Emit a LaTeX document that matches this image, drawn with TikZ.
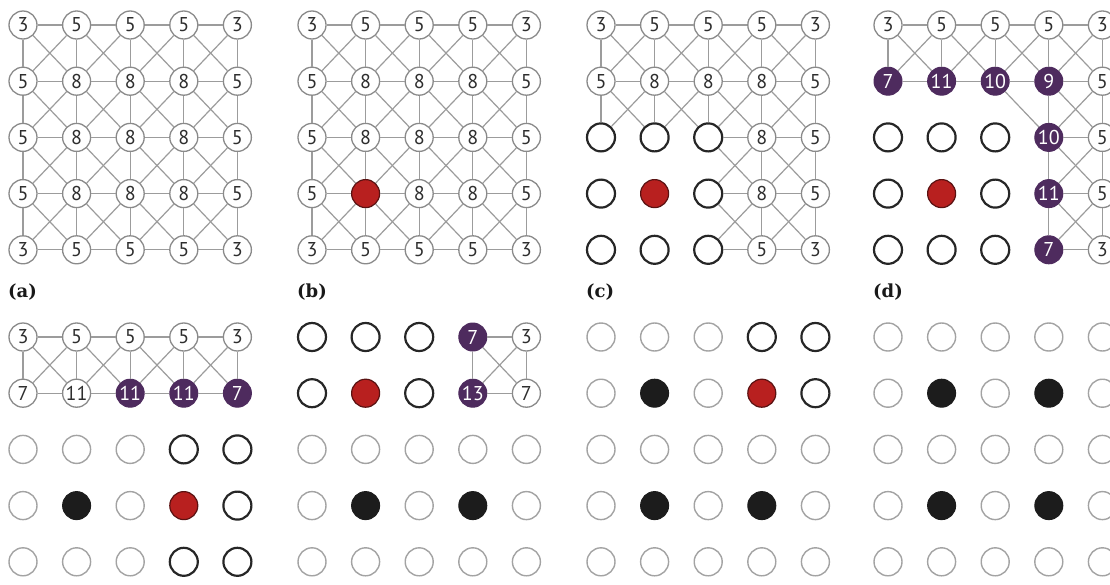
\documentclass[tikz,border=0pt]{standalone}
\usepackage{fontspec}
\setmainfont{PT Sans}
\newfontfamily\labfont{DejaVu Serif}
\definecolor{edgegray}{HTML}{9C9C9C}
\definecolor{nodegray}{HTML}{8A8A8A}
\definecolor{digit}{HTML}{2E2E2E}
\definecolor{redfill}{HTML}{B8201F}
\definecolor{reddark}{HTML}{5A1212}
\definecolor{outl}{HTML}{262626}
\definecolor{purp}{HTML}{4E2B5E}
\definecolor{lightg}{HTML}{A3A3A3}
\definecolor{blk}{HTML}{1C1C1C}
\tikzset{
  cellbase/.style={circle, inner sep=0pt, minimum size=28pt, font=\fontsize{20}{20}\selectfont},
  cellG/.style={cellbase, draw=nodegray, line width=1.3pt, fill=white, text=digit},
  cellR/.style={cellbase, draw=reddark, line width=1.2pt, fill=redfill},
  cellr/.style={cellR},
  cellO/.style={cellbase, draw=outl, line width=2.2pt, fill=white},
  cello/.style={cellO},
  cellP/.style={cellbase, draw=purp, fill=purp, line width=1pt, text=white},
  celll/.style={cellbase, draw=lightg, line width=1.4pt, fill=white},
  cellk/.style={cellbase, draw=blk, fill=blk, line width=1pt},
  link/.style={draw=edgegray, line width=1.2pt},
  lab/.style={font=\labfont\bfseries\fontsize{18}{18}\selectfont, text=black!90, anchor=west, inner sep=0pt},
}
% edge states of the cell kinds
\expandafter\def\csname sttG\endcsname{2}
\expandafter\def\csname sttR\endcsname{2}
\expandafter\def\csname sttr\endcsname{0}
\expandafter\def\csname sttO\endcsname{1}
\expandafter\def\csname stto\endcsname{0}
\expandafter\def\csname sttP\endcsname{2}
\expandafter\def\csname sttl\endcsname{0}
\expandafter\def\csname sttk\endcsname{0}
% texts of the cell kinds
\expandafter\def\csname txtG\endcsname#1{#1}
\expandafter\def\csname txtP\endcsname#1{#1}
\expandafter\def\csname txtR\endcsname#1{}
\expandafter\def\csname txtr\endcsname#1{}
\expandafter\def\csname txtO\endcsname#1{}
\expandafter\def\csname txto\endcsname#1{}
\expandafter\def\csname txtl\endcsname#1{}
\expandafter\def\csname txtk\endcsname#1{}
\newcommand\tryedge[3]{%
  \pgfmathtruncatemacro\jj{\ii+#3}%
  \pgfmathtruncatemacro\ea{\csname stX#1X\ii\endcsname}%
  \pgfmathtruncatemacro\eb{\csname stX#1X\jj\endcsname}%
  \pgfmathtruncatemacro\okk{(max(\ea,\eb)==2)&&(min(\ea,\eb)>=1)}%
  \ifnum\okk=1 \draw[link] (#1\ii) -- (#1\jj);\fi}
\newcommand\gridpanel[4]{%
  \foreach \cdx/\lbx [count=\ii from 0] in {#4} {%
    \pgfmathtruncatemacro\rw{int(\ii/5)}%
    \pgfmathtruncatemacro\cl{mod(\ii,5)}%
    \expandafter\xdef\csname stX#1X\ii\endcsname{\csname stt\cdx\endcsname}%
    \node[cell\cdx] (#1\ii) at ({#2+53.6*\cl},{#3+56.2*\rw}) {\csname txt\cdx\endcsname\lbx};
  }
  \foreach \rw in {0,...,4} {\foreach \cl in {0,...,4} {%
    \pgfmathtruncatemacro\ii{5*\rw+\cl}%
    \ifnum\cl<4 \tryedge{#1}{\ii}{1}\fi
    \ifnum\rw<4
      \tryedge{#1}{\ii}{5}%
      \ifnum\cl<4 \tryedge{#1}{\ii}{6}\fi
      \ifnum\cl>0 \tryedge{#1}{\ii}{4}\fi
    \fi
  }}
}
\begin{document}
\begin{tikzpicture}[x=1pt,y=-1pt]
\fill[white] (0,0) rectangle (1110,584);
\useasboundingbox (0,0) rectangle (1110,584);
\gridpanel{a}{23}{25}{G/3,G/5,G/5,G/5,G/3, G/5,G/8,G/8,G/8,G/5, G/5,G/8,G/8,G/8,G/5, G/5,G/8,G/8,G/8,G/5, G/3,G/5,G/5,G/5,G/3}
\gridpanel{b}{312}{25}{G/3,G/5,G/5,G/5,G/3, G/5,G/8,G/8,G/8,G/5, G/5,G/8,G/8,G/8,G/5, G/5,R/-,G/8,G/8,G/5, G/3,G/5,G/5,G/5,G/3}
\gridpanel{c}{601}{25}{G/3,G/5,G/5,G/5,G/3, G/5,G/8,G/8,G/8,G/5, O/-,O/-,O/-,G/8,G/5, O/-,r/-,O/-,G/8,G/5, O/-,O/-,O/-,G/5,G/3}
\gridpanel{d}{888}{25}{G/3,G/5,G/5,G/5,G/3, P/7,P/11,P/10,P/9,G/5, o/-,o/-,o/-,P/10,G/5, o/-,r/-,o/-,P/11,G/5, o/-,o/-,o/-,P/7,G/3}
\gridpanel{e}{23}{337}{G/3,G/5,G/5,G/5,G/3, G/7,G/11,P/11,P/11,P/7, l/-,l/-,l/-,o/-,o/-, l/-,k/-,l/-,r/-,o/-, l/-,l/-,l/-,o/-,o/-}
\gridpanel{f}{312}{337}{o/-,o/-,o/-,P/7,G/3, o/-,r/-,o/-,P/13,G/7, l/-,l/-,l/-,l/-,l/-, l/-,k/-,l/-,k/-,l/-, l/-,l/-,l/-,l/-,l/-}
\gridpanel{g}{601}{337}{l/-,l/-,l/-,o/-,o/-, l/-,k/-,l/-,r/-,o/-, l/-,l/-,l/-,l/-,l/-, l/-,k/-,l/-,k/-,l/-, l/-,l/-,l/-,l/-,l/-}
\gridpanel{h}{888}{337}{l/-,l/-,l/-,l/-,l/-, l/-,k/-,l/-,k/-,l/-, l/-,l/-,l/-,l/-,l/-, l/-,k/-,l/-,k/-,l/-, l/-,l/-,l/-,l/-,l/-}
\node[lab] (la) at (8,292) {(a)};
\node[lab] (lb) at (297,292) {(b)};
\node[lab] (lc) at (586,292) {(c)};
\node[lab] (ld) at (873,292) {(d)};
\end{tikzpicture}
\end{document}
